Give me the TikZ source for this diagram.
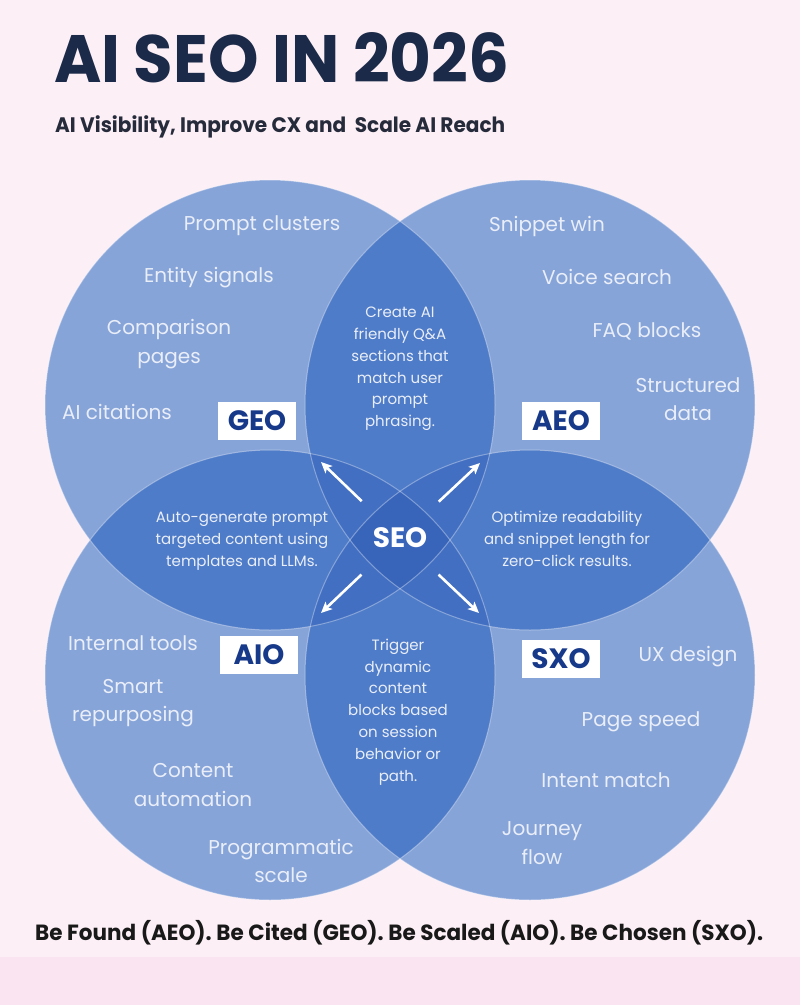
\documentclass[tikz,border=0pt]{standalone}
\usepackage{fontspec}
\setmainfont{Poppins}
\usetikzlibrary{arrows.meta,positioning}
\definecolor{bgpink}{HTML}{FCF0F6}
\definecolor{bgstrip}{HTML}{FBE4F2}
\definecolor{titleink}{HTML}{1B2A48}
\definecolor{subink}{HTML}{262B3B}
\definecolor{tagink}{HTML}{17398A}
\definecolor{ring}{HTML}{87A4D9}
\definecolor{pair}{HTML}{4F7CC8}
\definecolor{triple}{HTML}{426FC2}
\definecolor{quad}{HTML}{3865BA}
\definecolor{itemtext}{HTML}{E9EEF8}

\tikzset{
  item/.style={align=center,font=\fontsize{20}{28.5}\selectfont,text=itemtext},
  lens/.style={align=center,font=\fontsize{15}{21.8}\selectfont,text=itemtext},
  tag/.style={fill=white,text=tagink,font=\fontsize{28}{28}\selectfont\bfseries,
    minimum width=78pt,minimum height=38pt,inner sep=0pt},
  seoarrow/.style={white,line width=2.6pt,-{Stealth[length=11pt,width=10pt,inset=2.5pt]}},
}

\begin{document}
\begin{tikzpicture}[x=1pt,y=-1pt]
  \useasboundingbox (0,0) rectangle (800,1005);
  \fill[bgpink] (0,0) rectangle (800,957);
  \fill[bgstrip] (0,957) rectangle (800,1005);

  % title block
  \node[anchor=base west,inner sep=0pt,text=titleink,font=\fontsize{67}{70}\selectfont\bfseries]
    (title) at (54,82) {\resizebox{455pt}{\height}{AI SEO IN 2026}};
  \node[anchor=base west,inner sep=0pt,text=subink,font=\fontsize{21}{24}\selectfont\bfseries]
    (subtitle) at (55,132) {\resizebox{450pt}{\height}{AI Visibility, Improve CX and\ \ Scale AI Reach}};

  % four circles and their overlaps
  \def\rad{225pt}
  \foreach \n/\cx/\cy in {geo/270/405,aeo/530/405,aio/270/675,sxo/530/675}
    \coordinate (\n) at (\cx,\cy);
  \foreach \a in {geo,aeo,aio,sxo}
    \fill[ring] (\a) circle[radius=\rad];
  \foreach \a/\b in {geo/aeo,geo/aio,geo/sxo,aeo/aio,aeo/sxo,aio/sxo}{
    \begin{scope}
      \clip (\a) circle[radius=\rad];
      \fill[pair] (\b) circle[radius=\rad];
    \end{scope}}
  \foreach \a/\b/\c in {geo/aeo/aio,geo/aeo/sxo,geo/aio/sxo,aeo/aio/sxo}{
    \begin{scope}
      \clip (\a) circle[radius=\rad];
      \clip (\b) circle[radius=\rad];
      \fill[triple] (\c) circle[radius=\rad];
    \end{scope}}
  \begin{scope}
    \clip (geo) circle[radius=\rad];
    \clip (aeo) circle[radius=\rad];
    \clip (aio) circle[radius=\rad];
    \fill[quad] (sxo) circle[radius=\rad];
  \end{scope}
  \foreach \a in {geo,aeo,aio,sxo}
    \draw[white,opacity=.35,line width=1pt] (\a) circle[radius=\rad];

  % circle items
  \foreach \i/\x/\y/\txt in {1/262/226/{Prompt clusters},2/209/278/{Entity signals},
      3/169/344/{Comparison\\pages},4/117/412/{AI citations}}
    \node[item] (geo\i) at (\x,\y) {\txt};
  \foreach \i/\x/\y/\txt in {1/547/226/{Snippet win},2/607/277/{Voice search},
      3/647/331/{FAQ blocks},4/688/399/{Structured\\data}}
    \node[item] (aeo\i) at (\x,\y) {\txt};
  \foreach \i/\x/\y/\txt in {1/133/643/{Internal tools},2/133/703/{Smart\\repurposing},
      3/193/785/{Content\\automation},4/281/861/{Programmatic\\scale}}
    \node[item] (aio\i) at (\x,\y) {\txt};
  \foreach \i/\x/\y/\txt in {1/688/657/{UX design},2/641/722/{Page speed},
      3/606/780/{Intent match},4/542/843/{Journey\\flow}}
    \node[item] (sxo\i) at (\x,\y) {\txt};

  % tags
  \node[tag] (geoTag) at (257,421) {GEO};
  \node[tag] (aeoTag) at (561,421) {AEO};
  \node[tag] (aioTag) at (259,655) {AIO};
  \node[tag] (sxoTag) at (561,659) {SXO};

  % lens texts
  \node[lens] (qaLens) at (400,369) {Create AI\\friendly Q\&A\\sections that\\match user\\prompt\\phrasing.};
  \node[lens] (autoLens) at (242,541) {Auto-generate prompt\\targeted content using\\templates and LLMs.};
  \node[lens] (readLens) at (567,539) {Optimize readability\\and snippet length for\\zero-click results.};
  \node[lens] (dynLens) at (398,712) {Trigger\\dynamic\\content\\blocks based\\on session\\behavior or\\path.};

  % centre and arrows
  \node[circle,minimum size=106pt,inner sep=0pt,text=white,font=\fontsize{28}{28}\selectfont\bfseries]
    (seo) at (400,538) {SEO};
  \coordinate (tipGeo) at (321,462);
  \coordinate (tipAeo) at (480,463);
  \coordinate (tipAio) at (321,613);
  \coordinate (tipSxo) at (479,613);
  \foreach \t in {tipGeo,tipAeo,tipAio,tipSxo}
    \draw[seoarrow] (seo) -- (\t);

  % footer line
  \node[anchor=base west,inner sep=0pt,text=black!90,font=\fontsize{22}{24}\selectfont\bfseries]
    (footer) at (35,940) {\resizebox{728pt}{\height}{Be Found (AEO). Be Cited (GEO). Be Scaled (AIO). Be Chosen (SXO).}};
\end{tikzpicture}
\end{document}
